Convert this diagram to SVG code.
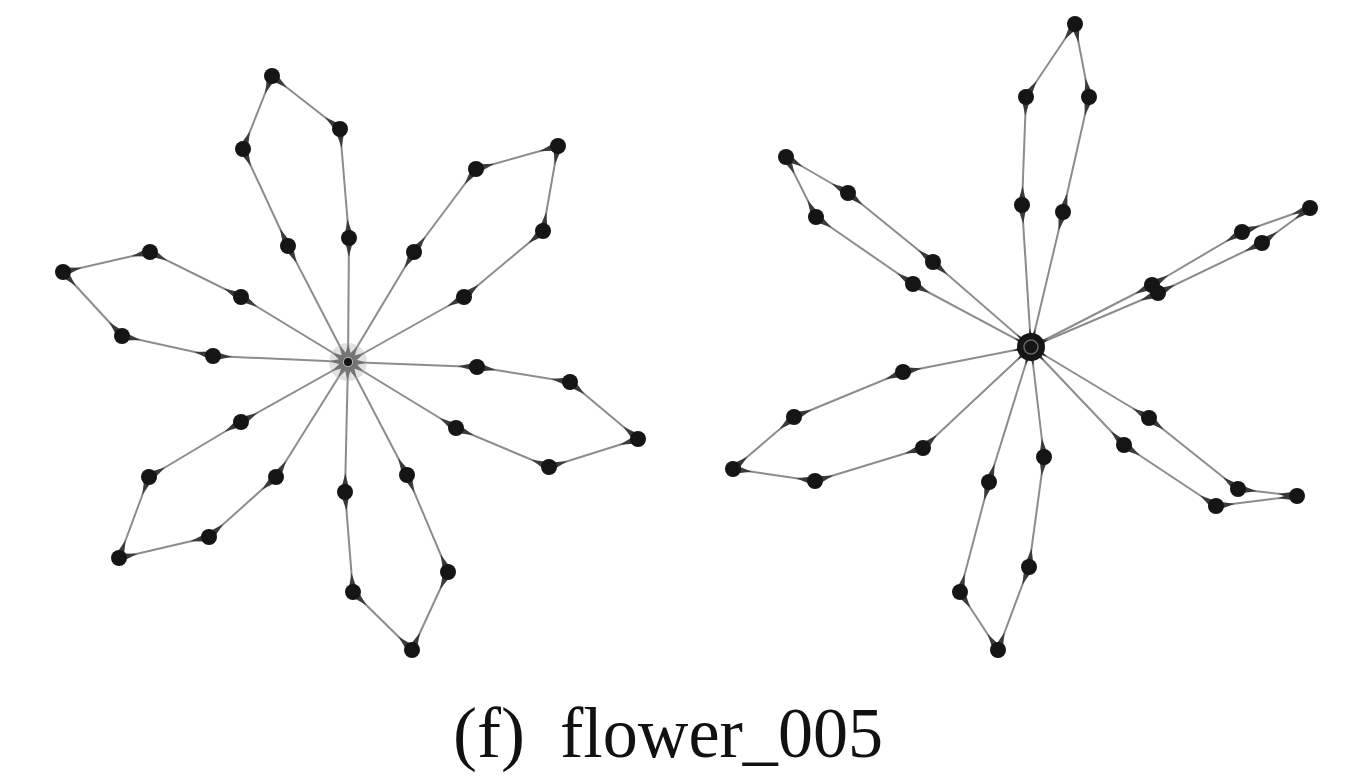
<svg xmlns="http://www.w3.org/2000/svg" width="1352" height="779" viewBox="0 0 1352 779">
<style>
.e{stroke:#8c8c8c;stroke-width:2;fill:none;marker-start:url(#d);marker-end:url(#d)}
.n{fill:#151515}
.t{font-family:"Liberation Serif","DejaVu Serif",serif;font-size:72px;fill:#111}
</style>
<defs>
<marker id="d" markerUnits="userSpaceOnUse" orient="auto-start-reverse" refX="19" refY="4" markerWidth="20" markerHeight="8" overflow="visible">
<path d="M0,4 L14,0.5 L14,7.5 Z" fill="#3a3a3a"/>
</marker>
</defs>
<rect width="1352" height="779" fill="#fff"/>
<g id="connectors">
<!-- left flower -->
<polyline class="e" points="348,362 288,246"/><polyline class="e" points="288,246 243,149"/><polyline class="e" points="243,149 272,76"/><polyline class="e" points="272,76 340,129"/><polyline class="e" points="340,129 349,238"/><polyline class="e" points="349,238 348,362"/>
<polyline class="e" points="348,362 414,252"/><polyline class="e" points="414,252 476,169"/><polyline class="e" points="476,169 558,146"/><polyline class="e" points="558,146 543,231"/><polyline class="e" points="543,231 464,297"/><polyline class="e" points="464,297 348,362"/>
<polyline class="e" points="348,362 477,367"/><polyline class="e" points="477,367 570,382"/><polyline class="e" points="570,382 638,439"/><polyline class="e" points="638,439 549,467"/><polyline class="e" points="549,467 456,428"/><polyline class="e" points="456,428 348,362"/>
<polyline class="e" points="348,362 407,475"/><polyline class="e" points="407,475 448,572"/><polyline class="e" points="448,572 412,650"/><polyline class="e" points="412,650 353,592"/><polyline class="e" points="353,592 345,492"/><polyline class="e" points="345,492 348,362"/>
<polyline class="e" points="348,362 276,477"/><polyline class="e" points="276,477 209,537"/><polyline class="e" points="209,537 119,558"/><polyline class="e" points="119,558 149,477"/><polyline class="e" points="149,477 241,422"/><polyline class="e" points="241,422 348,362"/>
<polyline class="e" points="348,362 213,356"/><polyline class="e" points="213,356 122,336"/><polyline class="e" points="122,336 63,272"/><polyline class="e" points="63,272 150,252"/><polyline class="e" points="150,252 241,297"/><polyline class="e" points="241,297 348,362"/>
<!-- right flower -->
<polyline class="e" points="1031,347 1022,205"/><polyline class="e" points="1022,205 1026,97"/><polyline class="e" points="1026,97 1075,24"/><polyline class="e" points="1075,24 1089,97"/><polyline class="e" points="1089,97 1063,212"/><polyline class="e" points="1063,212 1031,347"/>
<polyline class="e" points="1031,347 1152,285"/><polyline class="e" points="1152,285 1242,232"/><polyline class="e" points="1242,232 1310,208"/><polyline class="e" points="1310,208 1262,243"/><polyline class="e" points="1262,243 1158,293"/><polyline class="e" points="1158,293 1031,347"/>
<polyline class="e" points="1031,347 1149,418"/><polyline class="e" points="1149,418 1238,489"/><polyline class="e" points="1238,489 1297,496"/><polyline class="e" points="1297,496 1216,506"/><polyline class="e" points="1216,506 1124,445"/><polyline class="e" points="1124,445 1031,347"/>
<polyline class="e" points="1031,347 1044,457"/><polyline class="e" points="1044,457 1029,567"/><polyline class="e" points="1029,567 998,650"/><polyline class="e" points="998,650 960,592"/><polyline class="e" points="960,592 989,482"/><polyline class="e" points="989,482 1031,347"/>
<polyline class="e" points="1031,347 923,448"/><polyline class="e" points="923,448 815,481"/><polyline class="e" points="815,481 733,469"/><polyline class="e" points="733,469 794,417"/><polyline class="e" points="794,417 903,372"/><polyline class="e" points="903,372 1031,347"/>
<polyline class="e" points="1031,347 913,284"/><polyline class="e" points="913,284 816,217"/><polyline class="e" points="816,217 786,157"/><polyline class="e" points="786,157 848,193"/><polyline class="e" points="848,193 933,262"/><polyline class="e" points="933,262 1031,347"/>
</g>
<g id="left-flower">
<g id="L0"><circle cx="348" cy="362" r="19" fill="#bdbdbd" opacity="0.45"/><circle class="n" cx="348" cy="362" r="4"/></g>
<g id="L1"><circle class="n" cx="288" cy="246" r="8"/><circle class="n" cx="243" cy="149" r="8"/><circle class="n" cx="272" cy="76" r="8"/><circle class="n" cx="340" cy="129" r="8"/><circle class="n" cx="349" cy="238" r="8"/></g>
<g id="L2"><circle class="n" cx="414" cy="252" r="8"/><circle class="n" cx="476" cy="169" r="8"/><circle class="n" cx="558" cy="146" r="8"/><circle class="n" cx="543" cy="231" r="8"/><circle class="n" cx="464" cy="297" r="8"/></g>
<g id="L3"><circle class="n" cx="477" cy="367" r="8"/><circle class="n" cx="570" cy="382" r="8"/><circle class="n" cx="638" cy="439" r="8"/><circle class="n" cx="549" cy="467" r="8"/><circle class="n" cx="456" cy="428" r="8"/></g>
<g id="L4"><circle class="n" cx="407" cy="475" r="8"/><circle class="n" cx="448" cy="572" r="8"/><circle class="n" cx="412" cy="650" r="8"/><circle class="n" cx="353" cy="592" r="8"/><circle class="n" cx="345" cy="492" r="8"/></g>
<g id="L5"><circle class="n" cx="276" cy="477" r="8"/><circle class="n" cx="209" cy="537" r="8"/><circle class="n" cx="119" cy="558" r="8"/><circle class="n" cx="149" cy="477" r="8"/><circle class="n" cx="241" cy="422" r="8"/></g>
<g id="L6"><circle class="n" cx="213" cy="356" r="8"/><circle class="n" cx="122" cy="336" r="8"/><circle class="n" cx="63" cy="272" r="8"/><circle class="n" cx="150" cy="252" r="8"/><circle class="n" cx="241" cy="297" r="8"/></g>
</g>
<g id="right-flower">
<g id="R0"><circle class="n" cx="1031" cy="347" r="14"/><circle cx="1031" cy="347" r="7" fill="none" stroke="#666" stroke-width="1.5"/></g>
<g id="R1"><circle class="n" cx="1022" cy="205" r="8"/><circle class="n" cx="1026" cy="97" r="8"/><circle class="n" cx="1075" cy="24" r="8"/><circle class="n" cx="1089" cy="97" r="8"/><circle class="n" cx="1063" cy="212" r="8"/></g>
<g id="R2"><circle class="n" cx="1152" cy="285" r="8"/><circle class="n" cx="1242" cy="232" r="8"/><circle class="n" cx="1310" cy="208" r="8"/><circle class="n" cx="1262" cy="243" r="8"/><circle class="n" cx="1158" cy="293" r="8"/></g>
<g id="R3"><circle class="n" cx="1149" cy="418" r="8"/><circle class="n" cx="1238" cy="489" r="8"/><circle class="n" cx="1297" cy="496" r="8"/><circle class="n" cx="1216" cy="506" r="8"/><circle class="n" cx="1124" cy="445" r="8"/></g>
<g id="R4"><circle class="n" cx="1044" cy="457" r="8"/><circle class="n" cx="1029" cy="567" r="8"/><circle class="n" cx="998" cy="650" r="8"/><circle class="n" cx="960" cy="592" r="8"/><circle class="n" cx="989" cy="482" r="8"/></g>
<g id="R5"><circle class="n" cx="923" cy="448" r="8"/><circle class="n" cx="815" cy="481" r="8"/><circle class="n" cx="733" cy="469" r="8"/><circle class="n" cx="794" cy="417" r="8"/><circle class="n" cx="903" cy="372" r="8"/></g>
<g id="R6"><circle class="n" cx="913" cy="284" r="8"/><circle class="n" cx="816" cy="217" r="8"/><circle class="n" cx="786" cy="157" r="8"/><circle class="n" cx="848" cy="193" r="8"/><circle class="n" cx="933" cy="262" r="8"/></g>
</g>
<text class="t" y="757"><tspan x="453" textLength="72" lengthAdjust="spacingAndGlyphs">(f)</tspan><tspan x="560" textLength="323" lengthAdjust="spacingAndGlyphs">flower_005</tspan></text>
</svg>
